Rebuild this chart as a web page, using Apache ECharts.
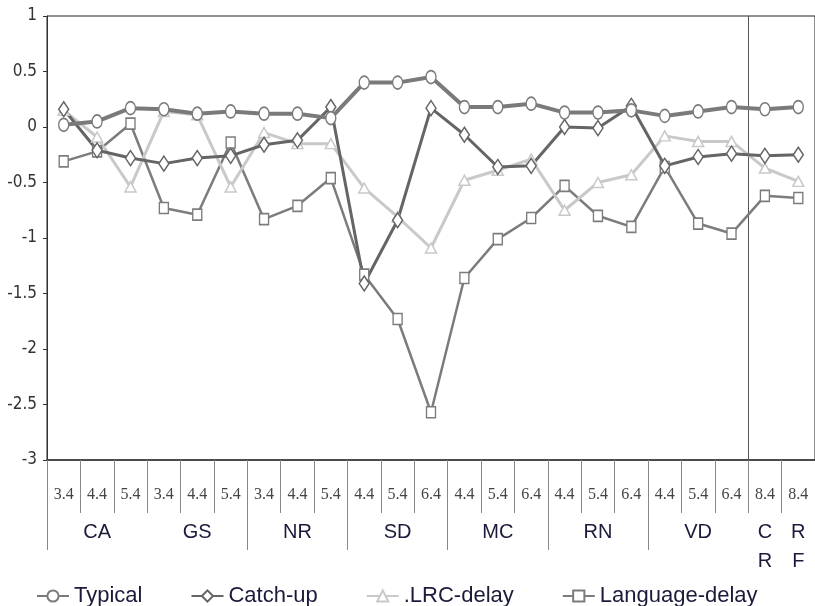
<!DOCTYPE html>
<html>
<head>
<meta charset="utf-8">
<title>chart</title>
<script src="https://cdn.jsdelivr.net/npm/echarts@6/dist/echarts.min.js"></script>
<style>
  html, body { margin: 0; padding: 0; background: #fff; }
  #main { width: 815px; height: 606px; }
</style>
</head>
<body>
<div id="main"></div>
<script>
// x axis, lower level (age) and upper level (task group)
const subLabels = ['3.4', '4.4', '5.4', '3.4', '4.4', '5.4', '3.4', '4.4', '5.4', '4.4', '5.4', '6.4',
  '4.4', '5.4', '6.4', '4.4', '5.4', '6.4', '4.4', '5.4', '6.4', '8.4', '8.4']
const groupLabels = ['', 'CA', '', '', 'GS', '', '', 'NR', '', '', 'SD', '', '', 'MC', '', '', 'RN', '', '',
  'VD', '', 'C\nR', 'R\nF']

// series values
const typical = [0.02, 0.05, 0.17, 0.16, 0.12, 0.14, 0.12, 0.12, 0.08, 0.40, 0.40, 0.45,
  0.18, 0.18, 0.21, 0.13, 0.13, 0.15, 0.10, 0.14, 0.18, 0.16, 0.18]
const catchUp = [0.16, -0.21, -0.28, -0.33, -0.28, -0.26, -0.16, -0.12, 0.18, -1.41, -0.84, 0.17,
  -0.07, -0.36, -0.35, 0.0, -0.01, 0.19, -0.35, -0.27, -0.24, -0.26, -0.25]
const lrcDelay = [0.15, -0.09, -0.54, 0.14, 0.11, -0.54, -0.05, -0.15, -0.15, -0.55, -0.81, -1.09,
  -0.48, -0.39, -0.29, -0.75, -0.50, -0.43, -0.08, -0.13, -0.13, -0.37, -0.49]
const languageDelay = [-0.31, -0.22, 0.03, -0.73, -0.79, -0.14, -0.83, -0.71, -0.46, -1.33, -1.73, -2.57,
  -1.36, -1.01, -0.82, -0.53, -0.80, -0.90, -0.36, -0.87, -0.96, -0.62, -0.64]

// boundaries that get a long separator in the group row
const groupTicks = [0, 6, 9, 12, 15, 18]

const chart = echarts.init(document.getElementById('main'))

function lineSeries(name, data, color, symbol, size, width) {
  return {
    name: name,
    type: 'line',
    data: data,
    symbol: symbol,
    symbolSize: size,
    showSymbol: true,
    lineStyle: { color: color, width: width },
    itemStyle: { color: '#fff', borderColor: color, borderWidth: 1.5 },
    emphasis: { disabled: true }
  }
}

const option = {
  animation: false,
  backgroundColor: '#fff',
  grid: {
    left: 47, right: -5, top: 16, bottom: 146,
    show: true, borderColor: '#222', borderWidth: 1
  },
  legend: {
    left: 31, top: 580,
    itemWidth: 32, itemHeight: 14, itemGap: 48,
    textStyle: { fontFamily: 'Liberation Sans, Arial, sans-serif', fontSize: 22, color: '#1a1a3a' },
    data: ['Typical', 'Catch-up', '.LRC-delay', 'Language-delay']
  },
  xAxis: [
    {
      type: 'category',
      data: subLabels,
      position: 'bottom',
      axisLine: { onZero: false, lineStyle: { color: '#333', width: 1.5 } },
      axisTick: { show: true, length: 53, interval: 0, lineStyle: { color: '#888' } },
      axisLabel: {
        interval: 0, margin: 27,
        fontFamily: 'Liberation Serif, serif', fontSize: 16, color: '#444'
      },
      // single vertical divider before CR
      splitLine: {
        show: true,
        interval: function (i) { return i === 0 || i === 21 },
        lineStyle: { color: '#555', width: 1 }
      }
    },
    {
      type: 'category',
      data: groupLabels,
      position: 'bottom',
      offset: 52,
      axisLine: { show: false, onZero: false },
      axisTick: {
        show: true, length: 38,
        interval: function (i) { return groupTicks.indexOf(i) >= 0 },
        lineStyle: { color: '#888' }
      },
      axisLabel: {
        interval: 0, margin: 6, lineHeight: 29,
        fontFamily: 'Liberation Sans, Arial, sans-serif', fontSize: 20, color: '#1a1a3a'
      }
    }
  ],
  yAxis: {
    type: 'value',
    min: -3, max: 1, interval: 0.5,
    axisLine: { show: true, lineStyle: { color: '#333' } },
    axisTick: { show: true, length: 4, lineStyle: { color: '#333' } },
    splitLine: { show: false },
    axisLabel: {
      margin: 10,
      fontFamily: 'Liberation Sans Narrow, DejaVu Sans Condensed, sans-serif',
      fontSize: 17, color: '#333'
    }
  },
  series: [
    lineSeries('Language-delay', languageDelay, '#7c7c7c', 'rect', [9, 11], 2.5),
    lineSeries('.LRC-delay', lrcDelay, '#c9c9c9', 'triangle', [11, 10], 3),
    lineSeries('Catch-up', catchUp, '#656565', 'diamond', [10, 15], 3),
    lineSeries('Typical', typical, '#7a7a7a', 'circle', [10, 13], 4)
  ]
}

option && chart.setOption(option, true)
window.addEventListener('resize', function () {
  chart.resize()
})
</script>
</body>
</html>
